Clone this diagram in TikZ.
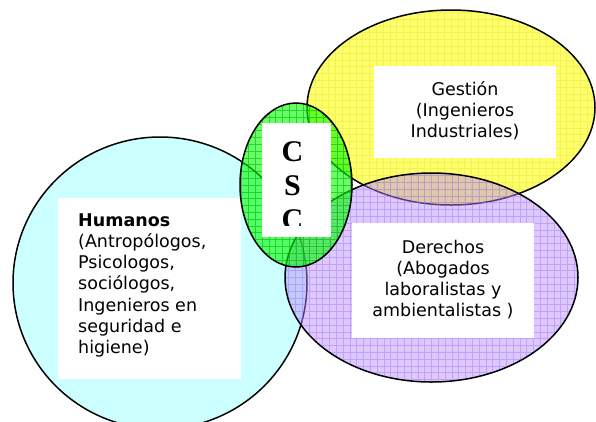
\documentclass[tikz,border=0pt]{standalone}
\usepackage{fontspec}
\newfontfamily\verd{DejaVu Sans}
\newfontfamily\tnr{Liberation Serif}
\usetikzlibrary{shapes.geometric}
\definecolor{cyanfill}{HTML}{CCFFFF}
\definecolor{yelfill}{HTML}{FFFF6A}
\definecolor{yelgrid}{HTML}{EEEE55}
\definecolor{purfill}{HTML}{B888FF}
\definecolor{purgrid}{HTML}{9A66F0}
\definecolor{grnfill}{HTML}{00FF00}
\definecolor{grngrid}{HTML}{00A800}
\begin{document}
\begin{tikzpicture}[x=1pt,y=-1pt,
  venn/.style={ellipse, inner sep=0pt, draw=black, line width=1.5pt},
  gridlines/.style 2 args={path picture={\draw[draw=#1, draw opacity=#2, line width=0.5pt, xstep=6.8pt, ystep=6.8pt]
      (path picture bounding box.south west) grid (path picture bounding box.north east);}},
  whitebox/.style={fill=white, inner sep=0pt, draw=none, anchor=north west},
  lbl/.style={font=\verd\fontsize{17.5}{21.3}\selectfont, inner sep=0pt},
  csclbl/.style={font=\tnr\bfseries\fontsize{30}{34}\selectfont, inner sep=0pt, align=center},
]
\useasboundingbox (0,0) rectangle (596,421);
\fill[white] (0,0) rectangle (596,421);

% Humanos
\node[venn, fill=cyanfill, minimum width=294pt, minimum height=292pt] (hum) at (160,283) {};
\node[whitebox, minimum width=183pt, minimum height=181pt] (hbox) at (58,198) {};
\node[lbl, anchor=base west, align=left] (htext) at (78,353.8)
  {\textbf{Humanos}\\(Antropólogos,\\Psicologos,\\sociólogos,\\Ingenieros en\\seguridad e\\higiene)};

% Gestion
\node[venn, fill=yelfill, gridlines={yelgrid}{0.8}, minimum width=288pt, minimum height=195pt] (ges) at (451,107.5) {};
\node[whitebox, minimum width=182pt, minimum height=92pt] (gbox) at (374,66) {};
\node[lbl, anchor=base, align=center, font=\verd\fontsize{17.5}{20.6}\selectfont] (gtext) at (465,137)
  {Gestión\\(Ingenieros\\Industriales)};

% Derechos
\node[venn, fill=purfill, fill opacity=0.45, gridlines={purgrid}{0.4}, minimum width=293pt, minimum height=209pt] (der) at (431.5,277.5) {};
\node[whitebox, minimum width=182pt, minimum height=115pt] (dbox) at (352,223) {};
\node[lbl, anchor=base, align=center, font=\verd\fontsize{17.5}{21}\selectfont] (dtext) at (443,316)
  {Derechos\\(Abogados\\laboralistas y\\ambientalistas )};

% CSC
\node[venn, fill=grnfill, fill opacity=0.6, gridlines={grngrid}{0.55}, minimum width=112pt, minimum height=164pt] (csc) at (296,185) {};
\node[whitebox, minimum width=69pt, minimum height=114pt] (cbox) at (262,123) {};
\begin{scope}
  \clip (262,123) rectangle (331,225);
  \node[csclbl, anchor=base] (ctext) at (292.5,229) {C\\S\\C};
\end{scope}
\end{tikzpicture}
\end{document}
